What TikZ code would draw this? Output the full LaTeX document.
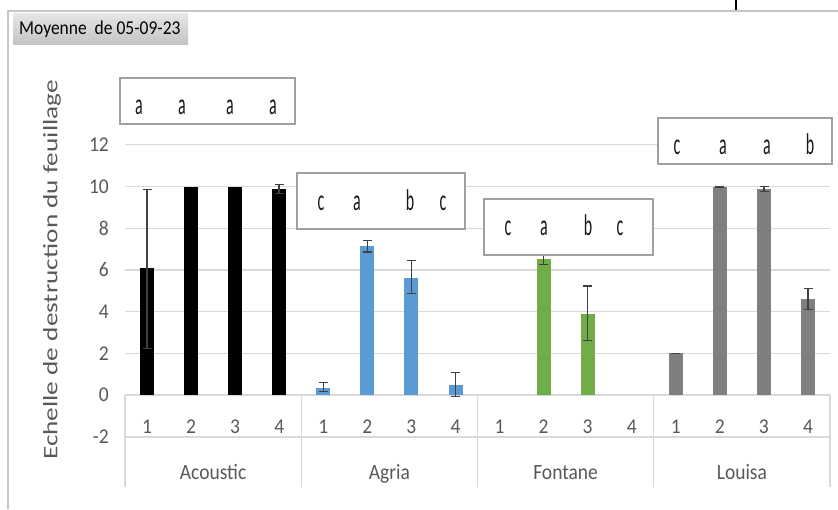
\documentclass[tikz,border=0pt]{standalone}
\usepackage{fontspec}
\setmainfont{Carlito}
\newfontfamily\letterfont[FakeStretch=0.53]{Carlito}
\definecolor{txtgray}{HTML}{595959}
\definecolor{gridgray}{HTML}{D9D9D9}
\definecolor{boxgray}{HTML}{A0A0A0}
\definecolor{errgray}{HTML}{404040}
\definecolor{barblue}{HTML}{5B9BD5}
\definecolor{bargreen}{HTML}{70AD47}
\definecolor{bargray}{HTML}{7F7F7F}
\definecolor{titletop}{HTML}{E6E6E6}
\definecolor{titlebot}{HTML}{C4C4C4}
\tikzset{
  ticklab/.style={text=txtgray, font=\fontsize{19.5}{22}\selectfont, inner sep=0pt},
  catlab/.style={text=txtgray, font=\fontsize{19.5}{22}\selectfont, inner sep=0pt, anchor=base},
  letterbox/.style={draw=boxgray, line width=1.2pt, fill=white},
  sig/.style={font=\letterfont\fontsize{30}{32}\selectfont, text=black!90, inner sep=0pt, anchor=base},
  grid line/.style={draw=gridgray, line width=1.3pt},
  errbar/.style={draw=errgray, line width=1.1pt},
}
\newcommand{\mybar}[3]{\fill[#3] (#1-7,0) rectangle (#1+7,#2);}
\newcommand{\myerr}[3]{\draw[errbar] (#1,#2-#3) -- (#1,#2+#3) (#1-4.5,#2-#3) -- (#1+4.5,#2-#3) (#1-4.5,#2+#3) -- (#1+4.5,#2+#3);}
\begin{document}
\begin{tikzpicture}[x=1pt, y=-1pt]
\useasboundingbox (0,0) rectangle (838,509);
\fill[white] (0,0) rectangle (838,509);
% outer frame
\draw[draw=gray!45, line width=1.2pt] (8,509) -- (8,11) -- (838,11);
\draw[black, line width=1.6pt] (736,0) -- (736,10);
% title box
\shade[top color=titletop, bottom color=titlebot] (13,13) rectangle (188,44);
\node[anchor=west, inner sep=0pt, font=\fontsize{17.5}{19}\selectfont] (title) at (19,29) {\scalebox{1}[1.12]{Moyenne\ \ de 05-09-23}};
% gridlines
\foreach \v in {2,4,...,12}{
  \draw[grid line] (125,{395-20.85*\v}) -- (830,{395-20.85*\v});
}
% tick labels
\foreach \v in {-2,0,2,...,12}{
  \node[ticklab, anchor=east] (t\v) at (109,{395-20.85*\v}) {\scalebox{1}[1.08]{\v}};
}
% category table
\draw[grid line] (125,395) -- (830,395);
\draw[grid line] (125,437) -- (830,437);
\foreach \x in {125,301.25,477.5,653.75,830}{
  \draw[grid line] (\x,395) -- (\x,487);
}
\foreach \g in {0,1,2,3}{
  \foreach \k in {1,2,3,4}{
    \node[ticklab] (c\g\k) at ({125+176.25*\g+44.06*(\k-0.5)},427) {\scalebox{1}[1.08]{\k}};
  }
}
\node[catlab] (cat1) at (213.1,479) {\scalebox{1}[1.12]{Acoustic}};
\node[catlab] (cat2) at (389.4,479) {\scalebox{1}[1.12]{Agria}};
\node[catlab] (cat3) at (565.6,479) {\scalebox{1}[1.12]{Fontane}};
\node[catlab] (cat4) at (741.9,479) {\scalebox{1}[1.12]{Louisa}};
% axis title
\node[rotate=90, text=txtgray, font=\fontsize{20.5}{22}\selectfont, inner sep=0pt] (ytitle) at (52,270) {\scalebox{1.33}[1]{Echelle de destruction du feuillage}};
% bars
\begin{scope}[shift={(0,395)}, y=20.85pt]
  % Acoustic
  \mybar{147}{6.07}{black}
  \mybar{191}{10}{black}
  \mybar{235}{10}{black}
  \mybar{279}{9.87}{black}
  \myerr{147}{6.05}{3.82}
  \myerr{279}{9.87}{0.22}
  % Agria
  \mybar{323.3}{0.32}{barblue}
  \mybar{367.4}{7.13}{barblue}
  \mybar{411.4}{5.63}{barblue}
  \mybar{455.5}{0.48}{barblue}
  \myerr{323.3}{0.38}{0.23}
  \myerr{367.4}{7.14}{0.28}
  \myerr{411.4}{5.65}{0.78}
  \myerr{455.5}{0.5}{0.57}
  % Fontane
  \mybar{543.6}{6.52}{bargreen}
  \mybar{587.7}{3.87}{bargreen}
  \myerr{543.6}{6.48}{0.22}
  \myerr{587.7}{3.92}{1.31}
  % Louisa
  \mybar{675.8}{2.0}{bargray}
  \mybar{719.9}{9.99}{bargray}
  \mybar{764}{9.88}{bargray}
  \mybar{808}{4.6}{bargray}
  \myerr{675.8}{2.0}{0.0}
  \myerr{719.9}{9.99}{0.02}
  \myerr{764}{9.9}{0.12}
  \myerr{808}{4.62}{0.5}
\end{scope}
% letter boxes
\draw[letterbox] (120,78) rectangle (295,124);
\draw[letterbox] (297,173) rectangle (465,229);
\draw[letterbox] (484,199) rectangle (653,255);
\draw[letterbox] (658,118) rectangle (832,164);
\node[sig] (l11) at (139,114) {a};
\node[sig] (l12) at (182,114) {a};
\node[sig] (l13) at (230,114) {a};
\node[sig] (l14) at (273,114) {a};
\node[sig] (l21) at (321,210) {c};
\node[sig] (l22) at (357,210) {a};
\node[sig] (l23) at (410,210) {b};
\node[sig] (l24) at (443,210) {c};
\node[sig] (l31) at (508,235) {c};
\node[sig] (l32) at (544,235) {a};
\node[sig] (l33) at (588,235) {b};
\node[sig] (l34) at (620,235) {c};
\node[sig] (l41) at (677,154) {c};
\node[sig] (l42) at (723,154) {a};
\node[sig] (l43) at (767,154) {a};
\node[sig] (l44) at (810,154) {b};
\end{tikzpicture}
\end{document}
